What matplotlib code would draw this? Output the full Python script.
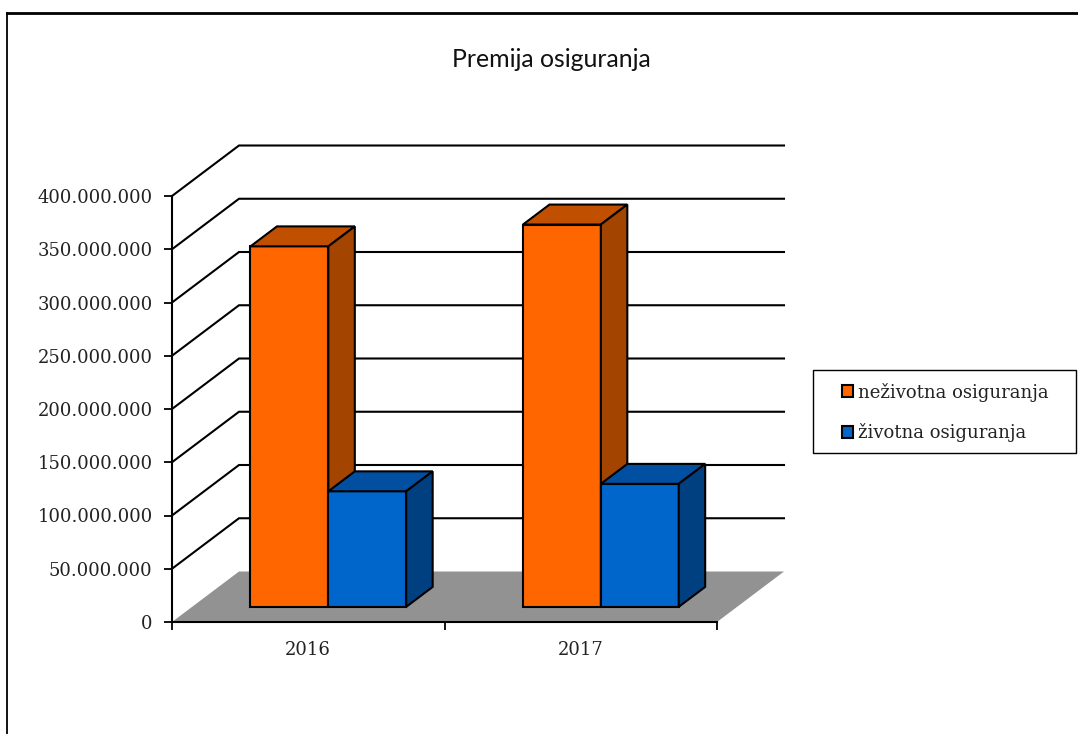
import matplotlib
matplotlib.use('Agg')
import matplotlib.pyplot as plt
from matplotlib.patches import Polygon, Patch, Rectangle
from matplotlib.lines import Line2D

# podaci
years = ['2016', '2017']
series_names = ['neživotna osiguranja', 'životna osiguranja']
nezivotna = [338.5e6, 359e6]
zivotna = [108.5e6, 115.5e6]
grid_values = [0, 50e6, 100e6, 150e6, 200e6, 250e6, 300e6, 350e6, 400e6]

W, H = 1078, 734
fig = plt.figure(figsize=(W / 100, H / 100), dpi=100)
fig.patch.set_facecolor('white')

# okvir slike (samo gore i lijevo)
fig.add_artist(Line2D([7 / W, 1], [1 - 12.5 / H, 1 - 12.5 / H], color='black', lw=2))
fig.add_artist(Line2D([7 / W, 7 / W], [0, 1 - 12.5 / H], color='black', lw=1.3))

# prednja ravnina osi: x 172-717 px, y 622-196 px
ax = fig.add_axes([172 / W, 1 - 622 / H, 545 / W, 426 / H])
ax.set_xlim(0, 2)
ax.set_ylim(0, 400e6)
ax.patch.set_alpha(0)

# pomak dubine (kosa projekcija) u jedinicama osi
DX = 67 / 272.5
DY = 50e6 * 50.5 / 53.25
front_d = 0.30
back_d = 0.695
gap = 1.5
bar_w = 1 / (2 + gap)


def proj(x, y, d):
    return x + d * DX, y + d * DY


def wall_line(v):
    p0 = proj(0, v, 0)
    p1 = proj(0, v, 1)
    p2 = proj(2, v, 1)
    ax.plot([p0[0], p1[0], p2[0]], [p0[1], p1[1], p2[1]], color='black', lw=1.5,
            clip_on=False, zorder=1, solid_joinstyle='miter')


def draw_bar(x0, val, face, top, side):
    x1 = x0 + bar_w
    fx0, fy0 = proj(x0, 0, front_d)
    ax.bar(fx0, val, bar_w, bottom=fy0, align='edge', color=face, edgecolor='black',
           linewidth=1.5, clip_on=False, zorder=3)
    top_pts = [proj(x0, val, front_d), proj(x1, val, front_d),
               proj(x1, val, back_d), proj(x0, val, back_d)]
    side_pts = [proj(x1, 0, front_d), proj(x1, val, front_d),
                proj(x1, val, back_d), proj(x1, 0, back_d)]
    for pts, c in ((top_pts, top), (side_pts, side)):
        ax.add_patch(Polygon(pts, closed=True, facecolor=c, edgecolor='black', lw=1.5,
                             clip_on=False, zorder=3, joinstyle='miter'))


for v in grid_values[1:]:
    wall_line(v)

# pod
floor = [proj(0, 0, 0), proj(2, 0, 0), proj(2, 0, 1), proj(0, 0, 1)]
ax.add_patch(Polygon(floor, closed=True, facecolor='#929292', edgecolor='none',
                     clip_on=False, zorder=2))

for i in range(len(years)):
    x0 = i + gap * bar_w / 2
    draw_bar(x0, nezivotna[i], '#FF6600', '#C05000', '#A34400')
    draw_bar(x0 + bar_w, zivotna[i], '#0066CC', '#004FA0', '#003F80')

for s in ('top', 'right'):
    ax.spines[s].set_visible(False)
for s in ('left', 'bottom'):
    ax.spines[s].set_linewidth(1.5)
    ax.spines[s].set_zorder(4)

ax.set_yticks(grid_values)
ax.set_yticklabels(['0'] + ['{:,.0f}'.format(v).replace(',', '.') for v in grid_values[1:]],
                   family='DejaVu Serif', fontsize=13, color='#222222')
ax.set_xticks([0, 1, 2])
ax.set_xticklabels([])
ax.set_xticks([0.5, 1.5], labels=years, minor=True, family='DejaVu Serif',
              fontsize=13, color='#222222')
ax.tick_params(axis='x', which='minor', length=0, pad=14)
ax.tick_params(axis='both', which='major', length=6, width=1.3)
ax.tick_params(axis='y', pad=8)

fig.text(551.5 / W, 1 - 59.5 / H, 'Premija osiguranja', family='Lato', fontsize=17.9,
         ha='center', va='center', color='#111111')

# okvir legende posebno, jer su lijevi i desni razmak veci od gornjeg
fig.add_artist(Rectangle((812.5 / W, 1 - 453 / H), 263.5 / W, 83 / H, transform=fig.transFigure,
                         facecolor='white', edgecolor='black', lw=1, zorder=5))
handles = [Patch(facecolor='#FF6600', edgecolor='black', lw=1.5),
           Patch(facecolor='#0066CC', edgecolor='black', lw=1.5)]
leg = fig.legend(handles, series_names, loc='center left',
                 bbox_to_anchor=(842 / W, 1 - 412.5 / H), borderaxespad=0, borderpad=0,
                 frameon=False, prop={'family': 'DejaVu Serif', 'size': 13},
                 handlelength=0.62, handleheight=0.62, handletextpad=0.25,
                 labelspacing=1.2)
leg.set_zorder(6)
for t in leg.get_texts():
    t.set_color('#222222')

fig.savefig('out.png', dpi=100)
